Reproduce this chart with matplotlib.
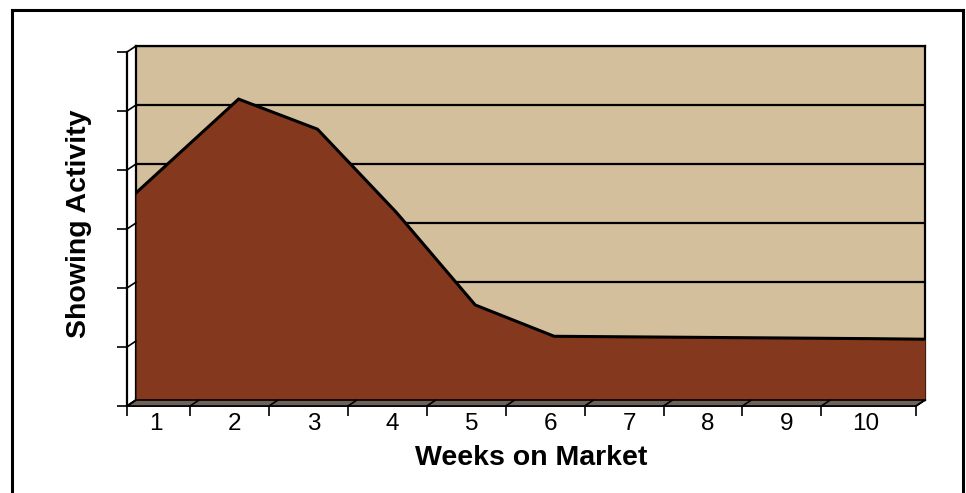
import matplotlib.pyplot as plt
from matplotlib.patches import Polygon, ConnectionPatch
from matplotlib.lines import Line2D
from matplotlib.transforms import IdentityTransform, ScaledTranslation

# area outline (x in week units, y in gridline units)
week_pos = [0.7, 2, 3, 4, 5, 6, 7, 8, 9, 10, 10.7]
activity = [3.51, 5.10, 4.59, 3.18, 1.61, 1.08, 1.07, 1.06, 1.05, 1.04, 1.03]
week_labels = ["1", "2", "3", "4", "5", "6", "7", "8", "9", "10"]
weeks = [1, 2, 3, 4, 5, 6, 7, 8, 9, 10]
x_min, x_max = 0.7, 10.7
bounds = [x_min] + [1.5 + i for i in range(9)] + [x_max]
levels = [0, 1, 2, 3, 4, 5, 6]

wall_col = "#D4BF9C"
area_col = "#84381D"
floor_col = "#6E6258"

W, H = 966, 493
fig = plt.figure(figsize=(W / 100, H / 100), dpi=100)

font = ["Liberation Sans", "DejaVu Sans"]

def px_rect(l, t, w, h):
  return [l / W, (H - t - h) / H, w / W, h / H]

# back wall
ax = fig.add_axes(px_rect(136, 46, 789, 354))
ax.set_facecolor(wall_col)
ax.set_xlim(x_min, x_max)
ax.set_ylim(0, 6)
ax.set_yticks(levels)
ax.set_xticks([])
ax.tick_params(axis="y", length=0, labelleft=False)
ax.grid(axis="y", color="black", lw=1.6)
ax.set_axisbelow(True)
for s in ["left", "top", "right", "bottom"]:
  ax.spines[s].set_linewidth(1.6)
ax.fill_between(week_pos, activity, 0, color=area_col, lw=0, zorder=3)
ax.plot(week_pos, activity, color="black", lw=2.2, zorder=4, solid_joinstyle="miter")

# front frame (axes lines, ticks, labels)
fx = fig.add_axes(px_rect(127, 52, 789, 354))
fx.patch.set_alpha(0)
fx.set_xlim(x_min, x_max)
fx.set_ylim(0, 6)
fx.spines["top"].set_visible(False)
fx.spines["right"].set_visible(False)
fx.spines["left"].set_linewidth(1.6)
fx.spines["bottom"].set_linewidth(1.2)
fx.set_yticks(levels)
fx.tick_params(axis="y", length=7.5, width=1.2, direction="out", labelleft=False)
fx.set_xticks(weeks)
fx.set_xticklabels(week_labels, family=font, fontsize=17.5)
fx.set_xticks(bounds, minor=True)
fx.tick_params(axis="x", which="major", length=0, pad=5)
fx.tick_params(axis="x", which="minor", length=7.5, width=1.2, direction="out")
nudge = ScaledTranslation(5 / 100, 0, fig.dpi_scale_trans)
for lab in fx.get_xticklabels():
  lab.set_transform(lab.get_transform() + nudge)
fx.set_ylabel("Showing Activity", family=font, fontsize=20.5, fontweight="bold")
fx.yaxis.set_label_coords(-0.044, 0.514)
fx.set_xlabel("Weeks on Market", family=font, fontsize=20.5, fontweight="bold")
fx.xaxis.set_label_coords(0.512, -0.11)

# floor between back wall and front frame
fig.canvas.draw()
back_pts = ax.transData.transform([(x_min, 0), (x_max, 0)])
front_pts = fx.transData.transform([(x_max, 0), (x_min, 0)])
floor = Polygon(list(back_pts) + list(front_pts), closed=True, transform=IdentityTransform(),
                facecolor=floor_col, edgecolor="black", lw=1.2, zorder=5)
fig.add_artist(floor)

# depth lines on the floor and the value axis
for b in bounds:
  fig.add_artist(ConnectionPatch(xyA=(b, 0), coordsA=fx.transData, xyB=(b, 0), coordsB=ax.transData,
                                 color="black", lw=1.2, zorder=6))
for v in levels:
  fig.add_artist(ConnectionPatch(xyA=(x_min, v), coordsA=fx.transData, xyB=(x_min, v), coordsB=ax.transData,
                                 color="black", lw=1.2, zorder=6))

# outer border
bw = 2.2
fig.add_artist(Line2D([12 / W, 12 / W], [0, 1 - 10 / H], color="black", lw=bw))
fig.add_artist(Line2D([12 / W, 963 / W], [1 - 10 / H, 1 - 10 / H], color="black", lw=bw))
fig.add_artist(Line2D([963 / W, 963 / W], [0, 1 - 10 / H], color="black", lw=bw))

fig.savefig("out.png", dpi=100)
